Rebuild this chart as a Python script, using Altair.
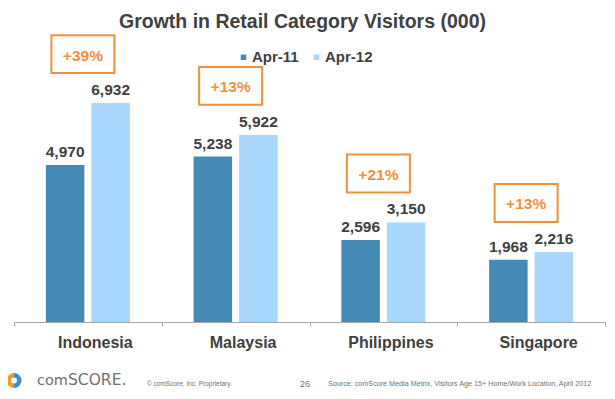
import math
import altair as alt
import pandas as pd

# ---------------- data ----------------
countries = ["Indonesia", "Malaysia", "Philippines", "Singapore"]
series = ["Apr-11", "Apr-12"]
apr_11 = [4970, 5238, 2596, 1968]
apr_12 = [6932, 5922, 3150, 2216]
growth = ["+39%", "+13%", "+21%", "+13%"]

title_text = "Growth in Retail Category Visitors (000)"
logo_words = ["com", "SCORE."]
footer_left = "\u00a9 comScore, Inc.   Proprietary."
page_number = "26"
source_note = "Source: comScore Media Metrix, Visitors Age 15+ Home/Work Location, April 2012"

# ---------------- styles ----------------
DARK = "#4589B5"
LIGHT = "#A9D6FB"
ORANGE = "#F0913A"
TEXT = "#404040"
GREY = "#707070"
AXIS_GREY = "#A6A6A6"
FONT = "Liberation Sans"

long_df = pd.DataFrame({
    "Country": countries * 2,
    "Series": [series[0]] * len(countries) + [series[1]] * len(countries),
    "Visitors": apr_11 + apr_12,
})
growth_df = pd.DataFrame({"Country": countries, "Apr12": apr_12, "Growth": growth})

y_scale = alt.Scale(domain=[0, 8674], nice=False, zero=True)

x_enc = alt.X(
    "Country:N", sort=countries,
    scale=alt.Scale(paddingInner=0, paddingOuter=0),
    axis=alt.Axis(title=None, labelAngle=0, labelFont=FONT, labelFontSize=16,
                  labelFontWeight="bold", labelColor=TEXT, labelBaseline="alphabetic",
                  labelPadding=21, labelOffset=7, domainColor=AXIS_GREY,
                  tickColor=AXIS_GREY, tickSize=4, tickBand="extent", ticks=True,
                  grid=False),
)
xo_enc = alt.XOffset("Series:N", sort=series,
                     scale=alt.Scale(paddingInner=0.154, paddingOuter=0.70))

bars = alt.Chart(long_df).mark_bar().encode(
    x=x_enc,
    xOffset=xo_enc,
    y=alt.Y("Visitors:Q", scale=y_scale, axis=None),
    color=alt.Color(
        "Series:N", sort=series,
        scale=alt.Scale(domain=series, range=[DARK, LIGHT]),
        legend=alt.Legend(title=None, orient="none", legendX=222, legendY=1.5,
                          direction="horizontal", symbolType="square", symbolSize=30,
                          symbolStrokeWidth=0, labelFont=FONT, labelFontSize=15,
                          labelFontWeight="bold", labelColor=TEXT, columnPadding=10,
                          labelOffset=1, padding=0),
    ),
)

values = alt.Chart(long_df).mark_text(
    font=FONT, fontSize=15.5, fontWeight="bold", color=TEXT,
    baseline="alphabetic", dy=-8,
).encode(
    x=x_enc,
    xOffset=xo_enc,
    y=alt.Y("Visitors:Q", scale=y_scale, axis=None),
    text=alt.Text("Visitors:Q", format=","),
)

boxes = alt.Chart(growth_df).mark_point(
    shape="M-1,-0.6L1,-0.6L1,0.6L-1,0.6Z", size=3969, filled=False,
    color=ORANGE, strokeWidth=2, opacity=1, xOffset=-5, yOffset=-49,
).encode(
    x=x_enc,
    y=alt.Y("Apr12:Q", scale=y_scale, axis=None),
)

growth_text = alt.Chart(growth_df).mark_text(
    font=FONT, fontSize=15.5, fontWeight="bold", color=ORANGE,
    baseline="middle", dx=-5, dy=-47.5,
).encode(
    x=x_enc,
    y=alt.Y("Apr12:Q", scale=y_scale, axis=None),
    text="Growth:N",
)

title = alt.Chart(pd.DataFrame({"t": [title_text]})).mark_text(
    align="center", baseline="alphabetic", font=FONT, fontSize=19.5,
    fontWeight="bold", color=TEXT,
).encode(x=alt.value(288.5), y=alt.value(-20), text="t:N")

one = pd.DataFrame({"k": [0]})

logo_orange = alt.Chart(one).mark_arc(
    theta=math.pi, theta2=2 * math.pi, innerRadius=3, outerRadius=7.5, color="#F39A2C",
).encode(x=alt.value(0), y=alt.value(332.5))
logo_blue = alt.Chart(one).mark_arc(
    theta=0, theta2=math.pi, innerRadius=3, outerRadius=7.5, color="#3D8FCB",
).encode(x=alt.value(0), y=alt.value(332.5))

logo_a = alt.Chart(pd.DataFrame({"t": [logo_words[0]]})).mark_text(
    align="left", baseline="alphabetic", font="DejaVu Sans", fontSize=14.5, color=GREY,
).encode(x=alt.value(23), y=alt.value(337), text="t:N")
logo_b = alt.Chart(pd.DataFrame({"t": [logo_words[1]]})).mark_text(
    align="left", baseline="alphabetic", font="DejaVu Sans", fontSize=15.5, color=GREY,
).encode(x=alt.value(54), y=alt.value(337), text="t:N")

foot_l = alt.Chart(pd.DataFrame({"t": [footer_left]})).mark_text(
    align="left", baseline="middle", font=FONT, fontSize=6.5, color=GREY,
).encode(x=alt.value(133), y=alt.value(336), text="t:N")
foot_n = alt.Chart(pd.DataFrame({"t": [page_number]})).mark_text(
    align="center", baseline="middle", font=FONT, fontSize=9, color=GREY,
).encode(x=alt.value(291), y=alt.value(336), text="t:N")
foot_s = alt.Chart(pd.DataFrame({"t": [source_note]})).mark_text(
    align="left", baseline="middle", font=FONT, fontSize=7.2, color=GREY,
).encode(x=alt.value(314), y=alt.value(336), text="t:N")

chart = alt.layer(
    bars, values, boxes, growth_text, title,
    logo_orange, logo_blue, logo_a, logo_b, foot_l, foot_n, foot_s,
).properties(
    width=591, height=274,
    autosize=alt.AutoSizeParams(type="none"),
    padding={"left": 6, "top": 40, "right": 2, "bottom": 69},
).configure_view(stroke=None)

chart.save("out.html", embed_options={"renderer": "svg", "actions": False})
